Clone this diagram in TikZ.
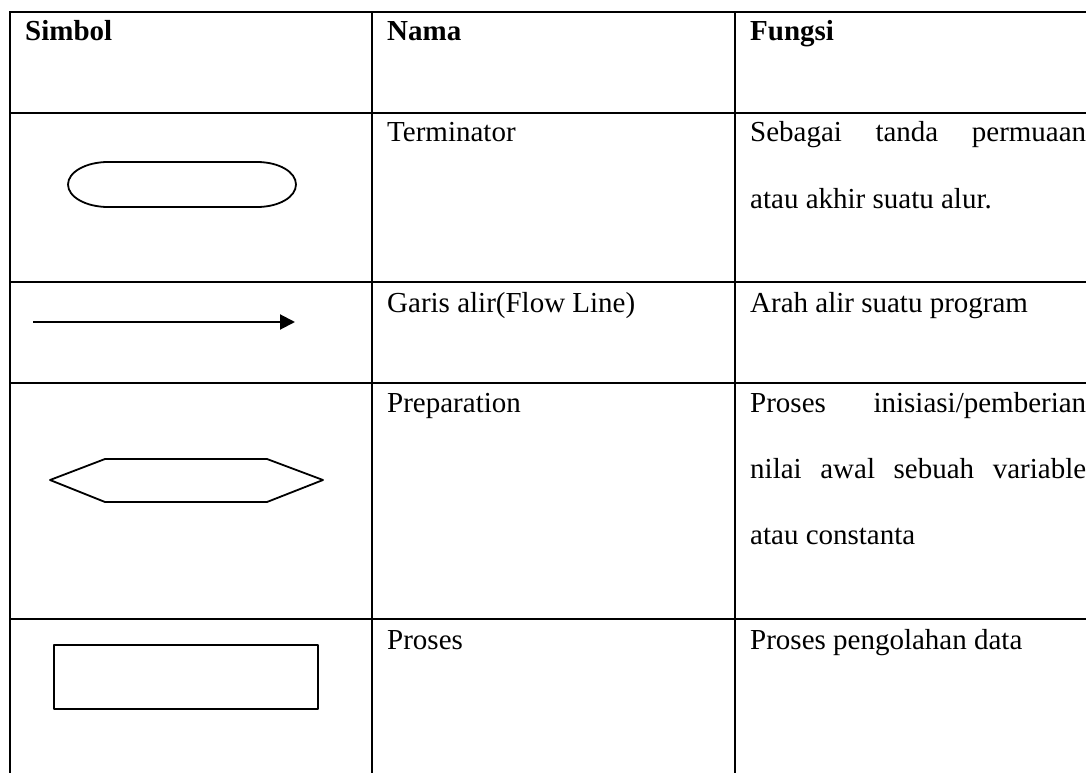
\documentclass[tikz,border=0pt]{standalone}
\usepackage{fontspec}
\setmainfont{Liberation Serif}
\usepackage{tikz}
\usetikzlibrary{arrows.meta}

\tikzset{
  gridline/.style={line width=2.6pt,line cap=rect},
  symline/.style={line width=1.8pt,line join=round},
  celltext/.style={anchor=base west,inner sep=0pt,font=\fontsize{29}{34}\selectfont},
  headtext/.style={anchor=base west,inner sep=0pt,font=\fontsize{29}{34}\selectfont\bfseries}
}
\newcommand{\fillline}[1]{\makebox[336pt][s]{#1}}

\begin{document}
\begin{tikzpicture}[x=1pt,y=-1pt]
  \useasboundingbox (0,0) rectangle (1086,773);
  % table grid
  \foreach \r in {12,113,282,383,619}{\draw[gridline] (10,\r)--(1090,\r);}
  \foreach \c in {10,372,735}{\draw[gridline] (\c,12)--(\c,780);}
  % header
  \node[headtext] (simbolhead) at (25,41) {Simbol};
  \node[headtext] (namahead) at (387,41) {Nama};
  \node[headtext] (fungsihead) at (750,41) {Fungsi};
  % terminator
  \draw[symline] (108,162)--(257,162) .. controls (279,162) and (296,172) .. (296,184.5)
    .. controls (296,197) and (279,207) .. (257,207) -- (108,207)
    .. controls (86,207) and (68,197) .. (68,184.5)
    .. controls (68,172) and (86,162) .. (108,162) -- cycle;
  \node[celltext] (terminatorname) at (387,142) {Terminator};
  \node[celltext] (terminatorfn) at (750,142) {\fillline{Sebagai tanda permuaan}};
  \node[celltext] (terminatorfnb) at (750,208) {atau akhir suatu alur.};
  % flow line
  \coordinate (flowstart) at (33,322);
  \coordinate (flowend) at (295,322);
  \draw[line width=2pt,-{Triangle[length=15pt,width=15pt]}] (flowstart)--(flowend);
  \node[celltext] (flowname) at (387,312) {Garis alir(Flow Line)};
  \node[celltext] (flowfn) at (750,312) {Arah alir suatu program};
  % preparation
  \draw[symline] (50,480)--(105,459)--(267,459)--(323,480)--(267,502)--(105,502)--cycle;
  \node[celltext] (prepname) at (387,412) {Preparation};
  \node[celltext] (prepfn) at (750,412) {\fillline{Proses inisiasi/pemberian}};
  \node[celltext] (prepfnb) at (750,478) {\fillline{nilai awal sebuah variable}};
  \node[celltext] (prepfnc) at (750,544) {atau constanta};
  % proses
  \draw[symline] (54,645) rectangle (318,709);
  \node[celltext] (prosesname) at (387,649) {Proses};
  \node[celltext] (prosesfn) at (750,649) {Proses pengolahan data};
\end{tikzpicture}
\end{document}
